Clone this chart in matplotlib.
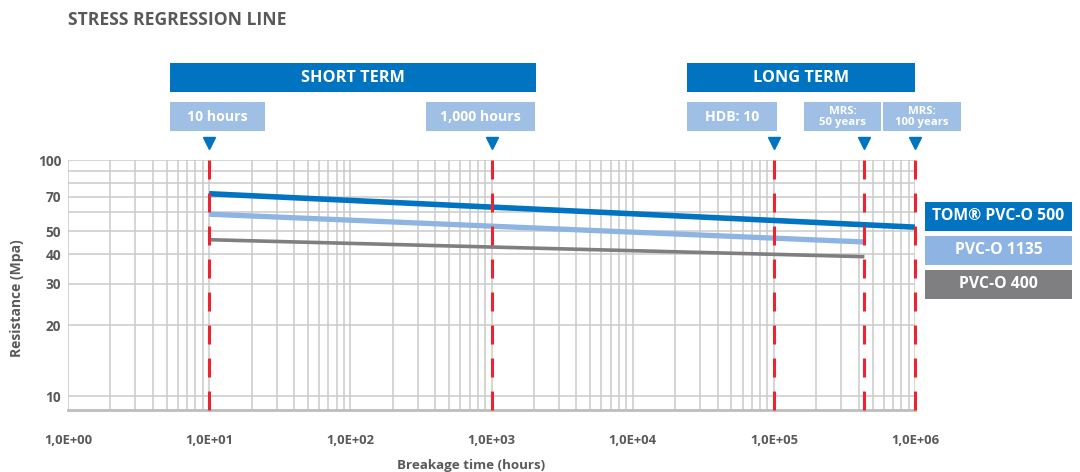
import matplotlib
matplotlib.use("Agg")
import matplotlib.pyplot as plt
import matplotlib.ticker as mticker
from matplotlib.patches import Rectangle
import matplotlib.transforms as mtransforms

plt.rcParams['font.family'] = ['Open Sans', 'DejaVu Sans']

# ---- data ----
series_names = ["TOM® PVC-O 500", "PVC-O 1135", "PVC-O 400"]
tom_x = [10, 1e6]
tom_y = [72, 52]
p1135_x = [10, 4.38e5]
p1135_y = [59, 45]
p400_x = [10, 4.38e5]
p400_y = [46, 39]

marker_x = [10, 1e3, 1e5, 4.38e5, 1e6]
marker_labels = ["10 hours", "1,000 hours", "HDB: 10", "MRS:\n50 years", "MRS:\n100 years"]

xtick_vals = [1e0, 1e1, 1e2, 1e3, 1e4, 1e5, 1e6]
xtick_labels = ["1,0E+00", "1,0E+01", "1,0E+02", "1,0E+03", "1,0E+04", "1,0E+05", "1,0E+06"]
ytick_vals = [10, 20, 30, 40, 50, 60, 70, 80, 90, 100]
ytick_labels = ["10", "20", "30", "40", "50", "", "70", "", "", "100"]

# colours
DARK = "#0074C1"
LIGHT = "#8DB4E2"
BOXLIGHT = "#9FBFE4"
GREY = "#7F7F81"
RED = "#EC2330"
GRID = "#CACACA"
TXT = "#595959"

W, H = 1080, 472
fig = plt.figure(figsize=(W / 100, H / 100), dpi=100)
ax = fig.add_axes([68 / W, 1 - 410 / H, (915 - 68) / W, 250 / H])

ax.set_xscale("log")
ax.set_yscale("log")
ax.set_xlim(1, 1e6)
ax.set_ylim(8.76, 100)

ax.xaxis.set_major_locator(mticker.FixedLocator(xtick_vals))
ax.xaxis.set_major_formatter(mticker.FixedFormatter(xtick_labels))
ax.xaxis.set_minor_locator(mticker.LogLocator(base=10, subs=range(2, 10)))
ax.xaxis.set_minor_formatter(mticker.NullFormatter())
ax.yaxis.set_major_locator(mticker.FixedLocator(ytick_vals))
ax.yaxis.set_major_formatter(mticker.FixedFormatter(ytick_labels))
ax.yaxis.set_minor_locator(mticker.NullLocator())

ax.grid(True, which="both", color=GRID, lw=1.1)
ax.set_axisbelow(True)
ax.tick_params(axis="both", which="both", length=0, colors=TXT)
ax.tick_params(axis="x", pad=17, labelsize=9.4)
ax.tick_params(axis="y", pad=5, labelsize=9.8)
for lab in ax.get_xticklabels() + ax.get_yticklabels():
    lab.set_fontweight("bold")
for s in ["left", "top", "right"]:
    ax.spines[s].set_visible(False)
ax.spines["bottom"].set_color("#BDBDBD")
ax.spines["bottom"].set_linewidth(2)

fig.text(17 / W, 1 - 298 / H, "Resistance (Mpa)", fontsize=10, fontweight="bold",
         color=TXT, ha="center", va="center", rotation=90)
fig.text(471 / W, 1 - 465 / H, "Breakage time (hours)", fontsize=9.6, fontweight="bold",
         color=TXT, ha="center", va="center")

# regression lines
ax.plot(tom_x, tom_y, color=DARK, lw=4, solid_capstyle="butt", zorder=3)
ax.plot(p1135_x, p1135_y, color=LIGHT, lw=3.8, solid_capstyle="butt", zorder=3)
ax.plot(p400_x, p400_y, color=GREY, lw=2.6, solid_capstyle="butt", zorder=3)

# red dashed verticals + triangles
for xv in marker_x:
    ax.axvline(xv, color=RED, lw=2.2, ls=(0, (6.2, 4.6)), zorder=4, clip_on=False)
trans = mtransforms.blended_transform_factory(ax.transData, ax.transAxes)
ax.plot(marker_x, [(410 - 143) / 250] * len(marker_x), ls="none", marker="v",
        ms=9, color=DARK, transform=trans, clip_on=False)


def box(x0, y0, x1, y1, text, color, size):
    fig.patches.append(Rectangle((x0 / W, 1 - y1 / H), (x1 - x0) / W, (y1 - y0) / H,
                                 transform=fig.transFigure, color=color, lw=0))
    fig.text((x0 + x1) / 2 / W, 1 - (y0 + y1) / 2 / H, text, color="white",
             fontsize=size, fontweight="bold", ha="center", va="center", linespacing=1.0)


# header bars
box(170, 63, 536, 92, "SHORT TERM", DARK, 11.7)
box(687, 63, 915, 92, "LONG TERM", DARK, 11.7)

# marker label boxes
label_boxes = [(170, 102, 265, 131), (426, 102, 535, 131), (687, 102, 777, 131),
               (804, 102, 881, 131), (883, 102, 961, 131)]
label_sizes = [10.2, 10.2, 10.2, 8.2, 8.2]
for (x0, y0, x1, y1), txt, sz in zip(label_boxes, marker_labels, label_sizes):
    box(x0, y0, x1, y1, txt, BOXLIGHT, sz)

# legend boxes
legend_colors = [DARK, LIGHT, GREY]
for i, (name, c) in enumerate(zip(series_names, legend_colors)):
    box(925, 202 + i * 34, 1072, 231 + i * 34, name, c, 11.3)

fig.text(68 / W, 1 - 20 / H, "STRESS REGRESSION LINE", fontsize=12.6, fontweight="bold",
         color=TXT, ha="left", va="center")

fig.savefig("out.png", dpi=100)
